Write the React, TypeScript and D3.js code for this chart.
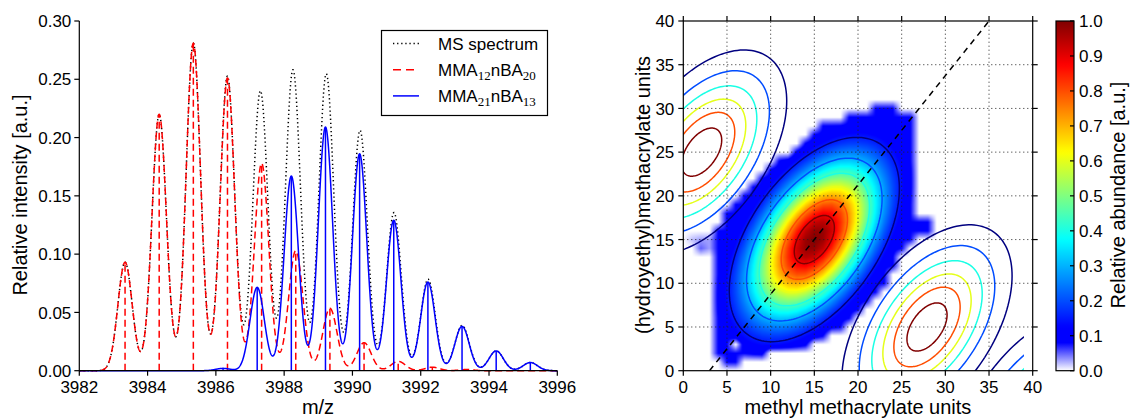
import React, { useMemo } from "react";
import * as d3 from "d3";

const FONT = "'Liberation Sans', Arial, Helvetica, sans-serif";

// ---------------- Left panel data: mass spectrum ----------------
const mzDomain = [3982, 3996];
const intensityDomain = [0, 0.3];
const mzTicks = [3982, 3984, 3986, 3988, 3990, 3992, 3994, 3996];
const intensityTicks = [0, 0.05, 0.1, 0.15, 0.2, 0.25, 0.3];

// MMA12nBA20 isotope sticks
const redMz = [3983.34, 3984.34, 3985.34, 3986.34, 3987.34, 3988.34, 3989.34, 3990.34, 3991.34, 3992.34, 3993.34];
const redIntensity = [0.093, 0.22, 0.281, 0.251, 0.178, 0.103, 0.0535, 0.024, 0.008, 0.003, 0.001];
// MMA21nBA13 isotope sticks
const blueMz = [3986.21, 3987.21, 3988.21, 3989.21, 3990.21, 3991.21, 3992.21, 3993.21, 3994.21, 3995.21];
const blueIntensity = [0.002, 0.0715, 0.167, 0.209, 0.186, 0.129, 0.076, 0.038, 0.017, 0.007];
const peakSigma = 0.21;

const legendLabels: [string, string][][] = [
  [["MS spectrum", ""]],
  [["MMA", "12"], ["nBA", "20"]],
  [["MMA", "21"], ["nBA", "13"]],
];

// ---------------- Right panel data: composition map ----------------
const unitTicks = [0, 5, 10, 15, 20, 25, 30, 35, 40];
const gridTicks = [5, 10, 15, 20, 25, 30, 35];
const abundanceTicks = [0, 0.1, 0.2, 0.3, 0.4, 0.5, 0.6, 0.7, 0.8, 0.9, 1.0];
const fitCenter = [15, 15];
const fitSigma = [5.0, 6.0];
const fitRho = 0.5;
const shiftSteps = [-1, 0, 1, 2];
const massShift = [12.9, -10];
const contourLevels = [0.15, 0.3, 0.45, 0.6, 0.75, 0.9];
const contourLimit = 39;
// rows of the measured abundance map: [y, xmin, xmax]
const heatRows: [number, number, number][] = [
  [30, 22, 24], [29, 19, 26], [28, 16, 26], [27, 15, 26], [26, 14, 26], [25, 13, 26],
  [24, 11, 26], [23, 10, 26], [22, 9, 26], [21, 8, 26], [20, 7, 26], [19, 6, 26],
  [18, 5, 26], [17, 5, 28], [16, 4, 28], [15, 4, 26], [14, 4, 25], [13, 4, 24],
  [12, 4, 24], [11, 4, 23], [10, 4, 23], [9, 4, 22], [8, 4, 21], [7, 4, 20],
  [6, 4, 19], [5, 4, 18], [4, 4, 16], [3, 4, 14], [2, 4, 9], [1, 5, 6],
];
const heatHoles: [number, number][] = [[6, 3]];
const heatHaze: [number, number, number][] = [[1, 15, 0.02], [2, 15, 0.03], [3, 15, 0.03], [2, 14, 0.05], [3, 14, 0.03]];
const heatFloor = 0.08;
const diagonalSlope = 1.25;

// ---------------- helpers ----------------
const clamp = (v: number) => Math.max(0, Math.min(1, v));
function jet(t: number): [number, number, number] {
  return [
    clamp(Math.min(4 * t - 1.5, -4 * t + 4.5)),
    clamp(Math.min(4 * t - 0.5, -4 * t + 3.5)),
    clamp(Math.min(4 * t + 0.5, -4 * t + 2.5)),
  ];
}
function heatColor(t: number): [number, number, number] {
  if (t <= 0.08) {
    const f = t / 0.08;
    return [1 - f, 1 - f, 1];
  }
  if (t < 0.125) return [0, 0, 1];
  return jet(t);
}
const rgb = (c: [number, number, number]) =>
  `rgb(${Math.round(c[0] * 255)},${Math.round(c[1] * 255)},${Math.round(c[2] * 255)})`;

function gauss(x: number, y: number, cx: number, cy: number) {
  const u = (x - cx) / fitSigma[0];
  const v = (y - cy) / fitSigma[1];
  const q = (u * u - 2 * fitRho * u * v + v * v) / (1 - fitRho * fitRho);
  return Math.exp(-q / 2);
}

function envelope(mz: number, pos: number[], amp: number[]) {
  let s = 0;
  for (let i = 0; i < pos.length; i++) {
    const d = mz - pos[i];
    s += amp[i] * Math.exp(-(d * d) / (2 * peakSigma * peakSigma));
  }
  return s;
}

export default function App() {
  // ---------- left scales ----------
  const xL = d3.scaleLinear().domain(mzDomain).range([79.3, 557.3]);
  const yL = d3.scaleLinear().domain(intensityDomain).range([370.7, 21]);
  const mzGrid = d3.range(mzDomain[0], mzDomain[1] + 0.0001, 0.005);
  const line = d3
    .line<[number, number]>()
    .x((d) => xL(d[0]))
    .y((d) => yL(d[1]));
  const allMz = [...redMz, ...blueMz];
  const allInt = [...redIntensity, ...blueIntensity];
  const msPath = line(mzGrid.map((m) => [m, envelope(m, allMz, allInt)] as [number, number]));
  const redPath = line(mzGrid.map((m) => [m, envelope(m, redMz, redIntensity)] as [number, number]));
  const bluePath = line(mzGrid.map((m) => [m, envelope(m, blueMz, blueIntensity)] as [number, number]));

  // ---------- right scales ----------
  const xR = d3.scaleLinear().domain([0, 40]).range([683.3, 1032.7]);
  const yR = d3.scaleLinear().domain([0, 40]).range([370.7, 21]);
  const pw = xR(40) - xR(0);
  const ph = yR(0) - yR(40);

  const heatUrl = useMemo(() => {
    if (typeof document === "undefined") return "";
    const N = 41;
    const grid = new Float32Array(N * N);
    heatRows.forEach(([y, x0, x1]) => {
      for (let x = x0; x <= x1; x++) grid[y * N + x] = Math.max(gauss(x, y, fitCenter[0], fitCenter[1]), heatFloor);
    });
    heatHoles.forEach(([x, y]) => (grid[y * N + x] = 0));
    heatHaze.forEach(([x, y, v]) => (grid[y * N + x] = v));
    const w = Math.round(pw);
    const h = Math.round(ph);
    const canvas = document.createElement("canvas");
    canvas.width = w;
    canvas.height = h;
    const ctx = canvas.getContext("2d");
    if (!ctx) return "";
    const img = ctx.createImageData(w, h);
    for (let py = 0; py < h; py++) {
      const y = 40 - ((py + 0.5) / h) * 40;
      const j0 = Math.min(39, Math.floor(y));
      const fy = y - j0;
      for (let px = 0; px < w; px++) {
        const x = ((px + 0.5) / w) * 40;
        const i0 = Math.min(39, Math.floor(x));
        const fx = x - i0;
        const v =
          grid[j0 * N + i0] * (1 - fx) * (1 - fy) +
          grid[j0 * N + i0 + 1] * fx * (1 - fy) +
          grid[(j0 + 1) * N + i0] * (1 - fx) * fy +
          grid[(j0 + 1) * N + i0 + 1] * fx * fy;
        const c = heatColor(v);
        const k = (py * w + px) * 4;
        img.data[k] = Math.round(c[0] * 255);
        img.data[k + 1] = Math.round(c[1] * 255);
        img.data[k + 2] = Math.round(c[2] * 255);
        img.data[k + 3] = 255;
      }
    }
    ctx.putImageData(img, 0, 0);
    return canvas.toDataURL();
  }, [pw, ph]);

  const ellipseLine = d3
    .line<[number, number]>()
    .x((d) => xR(d[0]))
    .y((d) => yR(d[1]))
    .curve(d3.curveLinearClosed);
  const thetas = d3.range(0, 2 * Math.PI, (2 * Math.PI) / 160);
  const contours: { d: string; color: string }[] = [];
  shiftSteps.forEach((s) => {
    const cx = fitCenter[0] + s * massShift[0];
    const cy = fitCenter[1] + s * massShift[1];
    contourLevels.forEach((L) => {
      const k = Math.sqrt(-2 * Math.log(L));
      const pts = thetas.map((t) => {
        const dx = k * fitSigma[0] * Math.cos(t);
        const dy = k * fitSigma[1] * (fitRho * Math.cos(t) + Math.sqrt(1 - fitRho * fitRho) * Math.sin(t));
        return [cx + dx, cy + dy] as [number, number];
      });
      const tNorm = (L - contourLevels[0]) / (contourLevels[contourLevels.length - 1] - contourLevels[0]);
      contours.push({ d: ellipseLine(pts) || "", color: rgb(jet(tNorm)) });
    });
  });

  const diagX0 = fitCenter[0] - fitCenter[1] / diagonalSlope;
  const diagX1 = fitCenter[0] + (40 - fitCenter[1]) / diagonalSlope;

  // colorbar
  const cbX = 1056;
  const cbW = 18;
  const cb = d3.scaleLinear().domain([0, 1]).range([370.7, 21]);
  const cbStops = d3.range(0, 1.0001, 0.01);

  const tickFont = 17;
  const labelFont = 20;

  return (
    <svg
      width={1131}
      height={419}
      style={{ position: "absolute", left: 0, top: 0, background: "#fff" }}
      fontFamily={FONT}
    >
      <defs>
        <clipPath id="plotR">
          <rect x={xR(0)} y={yR(40)} width={pw} height={ph} />
        </clipPath>
        <clipPath id="contR">
          <rect x={xR(0)} y={yR(40)} width={xR(contourLimit) - xR(0)} height={ph} />
        </clipPath>
        <linearGradient id="cbGrad" x1="0" y1="1" x2="0" y2="0">
          {cbStops.map((t) => (
            <stop key={t} offset={`${t * 100}%`} stopColor={rgb(heatColor(t))} />
          ))}
        </linearGradient>
      </defs>

      {/* ================= LEFT PANEL ================= */}
      <g>
        {/* MS spectrum */}
        <path d={msPath || ""} fill="none" stroke="#000" strokeWidth={1.5} strokeDasharray="1.3,2.8" />
        {/* red sticks + envelope */}
        {redMz.map((m, i) => (
          <line
            key={`rs${i}`}
            x1={xL(m)}
            x2={xL(m)}
            y1={yL(0)}
            y2={yL(redIntensity[i])}
            stroke="#ff0000"
            strokeWidth={1.5}
            strokeDasharray="7,4"
          />
        ))}
        <path d={redPath || ""} fill="none" stroke="#ff0000" strokeWidth={1.5} strokeDasharray="7,4" />
        {/* blue sticks + envelope */}
        {blueMz.map((m, i) => (
          <line
            key={`bs${i}`}
            x1={xL(m)}
            x2={xL(m)}
            y1={yL(0)}
            y2={yL(blueIntensity[i])}
            stroke="#0000ff"
            strokeWidth={1.5}
          />
        ))}
        <path d={bluePath || ""} fill="none" stroke="#0000ff" strokeWidth={1.5} />

        {/* axes */}
        <line x1={xL(mzDomain[0])} x2={xL(mzDomain[0])} y1={yL(0.3)} y2={yL(0)} stroke="#000" strokeWidth={1.2} />
        <line x1={xL(mzDomain[0])} x2={xL(mzDomain[1])} y1={yL(0)} y2={yL(0)} stroke="#000" strokeWidth={1.2} />
        {intensityTicks.map((t) => (
          <g key={`yt${t}`}>
            <line x1={xL(mzDomain[0]) - 5} x2={xL(mzDomain[0])} y1={yL(t)} y2={yL(t)} stroke="#000" strokeWidth={1.2} />
            <text x={xL(mzDomain[0]) - 8} y={yL(t)} dy="0.36em" textAnchor="end" fontSize={tickFont}>
              {d3.format(".2f")(t)}
            </text>
          </g>
        ))}
        {mzTicks.map((t) => (
          <g key={`xt${t}`}>
            <line x1={xL(t)} x2={xL(t)} y1={yL(0)} y2={yL(0) + 5} stroke="#000" strokeWidth={1.2} />
            <text x={xL(t)} y={393} textAnchor="middle" fontSize={tickFont}>
              {t}
            </text>
          </g>
        ))}
        <text x={318} y={414} textAnchor="middle" fontSize={labelFont}>
          m/z
        </text>
        <text x={27} y={195} textAnchor="middle" fontSize={labelFont} transform="rotate(-90 27 195)">
          Relative intensity [a.u.]
        </text>

        {/* legend */}
        <rect x={381.5} y={30.5} width={166} height={85} fill="#fff" stroke="#000" strokeWidth={1.2} />
        {legendLabels.map((parts, i) => {
          const by = 50 + i * 26.2;
          const ly = by - 6.5;
          const style =
            i === 0
              ? { stroke: "#000", dash: "1.3,2.8" }
              : i === 1
              ? { stroke: "#ff0000", dash: "8,5" }
              : { stroke: "#0000ff", dash: undefined };
          return (
            <g key={`lg${i}`}>
              <line x1={393} x2={419} y1={ly} y2={ly} stroke={style.stroke} strokeWidth={1.5} strokeDasharray={style.dash} />
              <text x={438} y={by} fontSize={17}>
                {parts.map(([main, sub], j) => (
                  <React.Fragment key={j}>
                    <tspan dy={j > 0 ? -4 : 0}>{main}</tspan>
                    {sub ? (
                      <tspan dy={4} fontSize={13} fontFamily="'Liberation Serif', 'Times New Roman', serif">
                        {sub}
                      </tspan>
                    ) : null}
                  </React.Fragment>
                ))}
              </text>
            </g>
          );
        })}
      </g>

      {/* ================= RIGHT PANEL ================= */}
      <g>
        {heatUrl ? (
          <image href={heatUrl} x={xR(0)} y={yR(40)} width={pw} height={ph} preserveAspectRatio="none" />
        ) : null}
        <g clipPath="url(#contR)">
          {contours.map((c, i) => (
            <path key={`ct${i}`} d={c.d} fill="none" stroke={c.color} strokeWidth={1.5} />
          ))}
        </g>
        {/* grid */}
        {gridTicks.map((t) => (
          <g key={`g${t}`}>
            <line x1={xR(t)} x2={xR(t)} y1={yR(0)} y2={yR(40)} stroke="#222" strokeWidth={1} strokeDasharray="1,3" />
            <line x1={xR(0)} x2={xR(40)} y1={yR(t)} y2={yR(t)} stroke="#222" strokeWidth={1} strokeDasharray="1,3" />
          </g>
        ))}
        {/* diagonal */}
        <g clipPath="url(#plotR)">
          <line
            x1={xR(diagX0)}
            y1={yR(0)}
            x2={xR(diagX1)}
            y2={yR(40)}
            stroke="#000"
            strokeWidth={1.5}
            strokeDasharray="6,5"
          />
        </g>
        {/* frame */}
        <rect x={xR(0)} y={yR(40)} width={pw} height={ph} fill="none" stroke="#000" strokeWidth={1.2} />
        {unitTicks.map((t) => (
          <g key={`rt${t}`}>
            <line x1={xR(t)} x2={xR(t)} y1={yR(0)} y2={yR(0) + 5} stroke="#000" strokeWidth={1.2} />
            <line x1={xR(t)} x2={xR(t)} y1={yR(40)} y2={yR(40) - 5} stroke="#000" strokeWidth={1.2} />
            <line x1={xR(0) - 5} x2={xR(0)} y1={yR(t)} y2={yR(t)} stroke="#000" strokeWidth={1.2} />
            <line x1={xR(40)} x2={xR(40) + 5} y1={yR(t)} y2={yR(t)} stroke="#000" strokeWidth={1.2} />
            <text x={xR(t)} y={393} textAnchor="middle" fontSize={tickFont}>
              {t}
            </text>
            <text x={xR(0) - 9} y={yR(t)} dy="0.36em" textAnchor="end" fontSize={tickFont}>
              {t}
            </text>
          </g>
        ))}
        <text x={(xR(0) + xR(40)) / 2} y={414} textAnchor="middle" fontSize={labelFont}>
          methyl methacrylate units
        </text>
        <text x={650} y={195} textAnchor="middle" fontSize={labelFont} transform="rotate(-90 650 195)">
          (hydroyethyl)methacrylate units
        </text>

        {/* colorbar */}
        <rect x={cbX} y={cb(1)} width={cbW} height={cb(0) - cb(1)} fill="url(#cbGrad)" stroke="#000" strokeWidth={1.2} />
        {abundanceTicks.map((t) => (
          <g key={`cb${t}`}>
            <line x1={cbX + cbW - 4} x2={cbX + cbW} y1={cb(t)} y2={cb(t)} stroke="#000" strokeWidth={1.2} />
            <text x={cbX + cbW + 5} y={cb(t)} dy="0.36em" fontSize={tickFont}>
              {d3.format(".1f")(t)}
            </text>
          </g>
        ))}
        <text x={1125} y={195} textAnchor="middle" fontSize={labelFont} transform="rotate(-90 1125 195)">
          Relative abundance [a.u.]
        </text>
      </g>
    </svg>
  );
}
